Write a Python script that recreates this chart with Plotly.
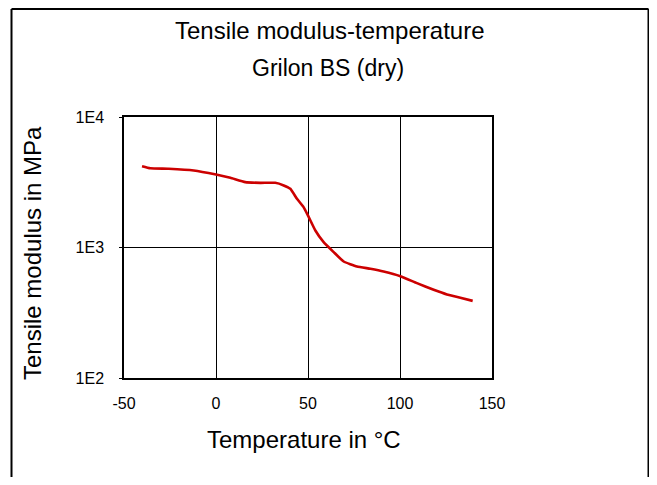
import plotly.graph_objects as go

# Data
temperature_c = [-40.2, -35.7, -25.7, -12.1, 0.0, 7.8, 15.9, 24.1, 32.2, 36.8, 40.4, 44.0,
                 47.6, 50.4, 54.0, 58.5, 64.0, 69.4, 76.6, 83.9, 91.1, 100.2, 109.2,
                 118.3, 125.5, 132.8, 139.5]
modulus_mpa = [4200, 4050, 4010, 3890, 3620, 3420, 3170, 3130, 3130, 2990, 2815, 2360,
               2040, 1710, 1350, 1100, 921, 781, 715, 687, 655, 603, 533,
               474, 437, 412, 390]

x_tick_vals = [-50, 0, 50, 100, 150]
x_tick_text = ["-50", "0", "50", "100", "150"]
y_tick_vals = [100, 1000, 10000]
y_tick_text = ["1E2", "1E3", "1E4"]

title_line1 = "Tensile modulus-temperature"
title_line2 = "Grilon BS (dry)"
x_title = "Temperature in °C"
y_title = "Tensile modulus in MPa"

FONT = "Liberation Sans, Arial, sans-serif"

fig = go.Figure()
fig.add_trace(go.Scatter(
    x=temperature_c, y=modulus_mpa, mode="lines",
    line=dict(color="#cc0000", width=2.6, shape="spline", smoothing=0.4),
    showlegend=False, hoverinfo="skip",
))

# page body has an 8px margin; work in screen pixels and convert
OFF = 8
W, H = 657 - OFF, 485 - 2 * OFF
L, T = 124 - OFF, 117 - OFF
R = W - (492 - OFF)
B = H - (378 - OFF)
pw, ph = W - L - R, H - T - B

def px(xs):
    return (xs - OFF - L) / pw

def py(ys):
    return (H - B - (ys - OFF)) / ph

border = dict(color="black", width=2)
x_left, x_right = px(11.5), px(648.5)
y_top, y_bot = py(9), py(520)

fig.update_layout(
    width=W, height=H,
    margin=dict(l=L, r=R, t=T, b=B, autoexpand=False),
    paper_bgcolor="white", plot_bgcolor="white",
    font=dict(family=FONT, color="black"),
    xaxis=dict(
        range=[-50, 150], tickvals=x_tick_vals, ticktext=x_tick_text,
        showgrid=True, gridcolor="black", gridwidth=1,
        showline=True, linecolor="black", linewidth=1.5, mirror=True,
        ticks="", zeroline=False, tickfont=dict(size=16, family=FONT),
        ticklabelstandoff=10,
    ),
    yaxis=dict(
        type="log", range=[2, 4], tickvals=y_tick_vals, ticktext=y_tick_text,
        showgrid=True, gridcolor="black", gridwidth=1,
        showline=True, linecolor="black", linewidth=1.5, mirror=True,
        ticks="outside", ticklen=3, tickcolor="black",
        zeroline=False, tickfont=dict(size=16, family=FONT),
        ticklabelstandoff=12,
    ),
    shapes=[
        dict(type="line", xref="paper", yref="paper", x0=x_left, x1=x_left,
             y0=y_bot, y1=y_top, line=border, layer="above"),
        dict(type="line", xref="paper", yref="paper", x0=x_right, x1=x_right,
             y0=y_bot, y1=y_top, line=border, layer="above"),
        dict(type="line", xref="paper", yref="paper", x0=x_left, x1=x_right,
             y0=y_top, y1=y_top, line=border, layer="above"),
    ],
    annotations=[
        dict(text=title_line1, xref="paper", yref="paper", x=px(329), y=py(30),
             xanchor="center", yanchor="middle", showarrow=False,
             font=dict(size=24, family=FONT)),
        dict(text=title_line2, xref="paper", yref="paper", x=px(328), y=py(68),
             xanchor="center", yanchor="middle", showarrow=False,
             font=dict(size=23, family=FONT)),
        dict(text=x_title, xref="paper", yref="paper", x=px(304), y=py(439),
             xanchor="center", yanchor="middle", showarrow=False,
             font=dict(size=24, family=FONT)),
        dict(text=y_title, xref="paper", yref="paper", x=px(32), y=py(253),
             xanchor="center", yanchor="middle", showarrow=False, textangle=-90,
             font=dict(size=24, family=FONT)),
    ],
)

fig.write_html("out.html")
